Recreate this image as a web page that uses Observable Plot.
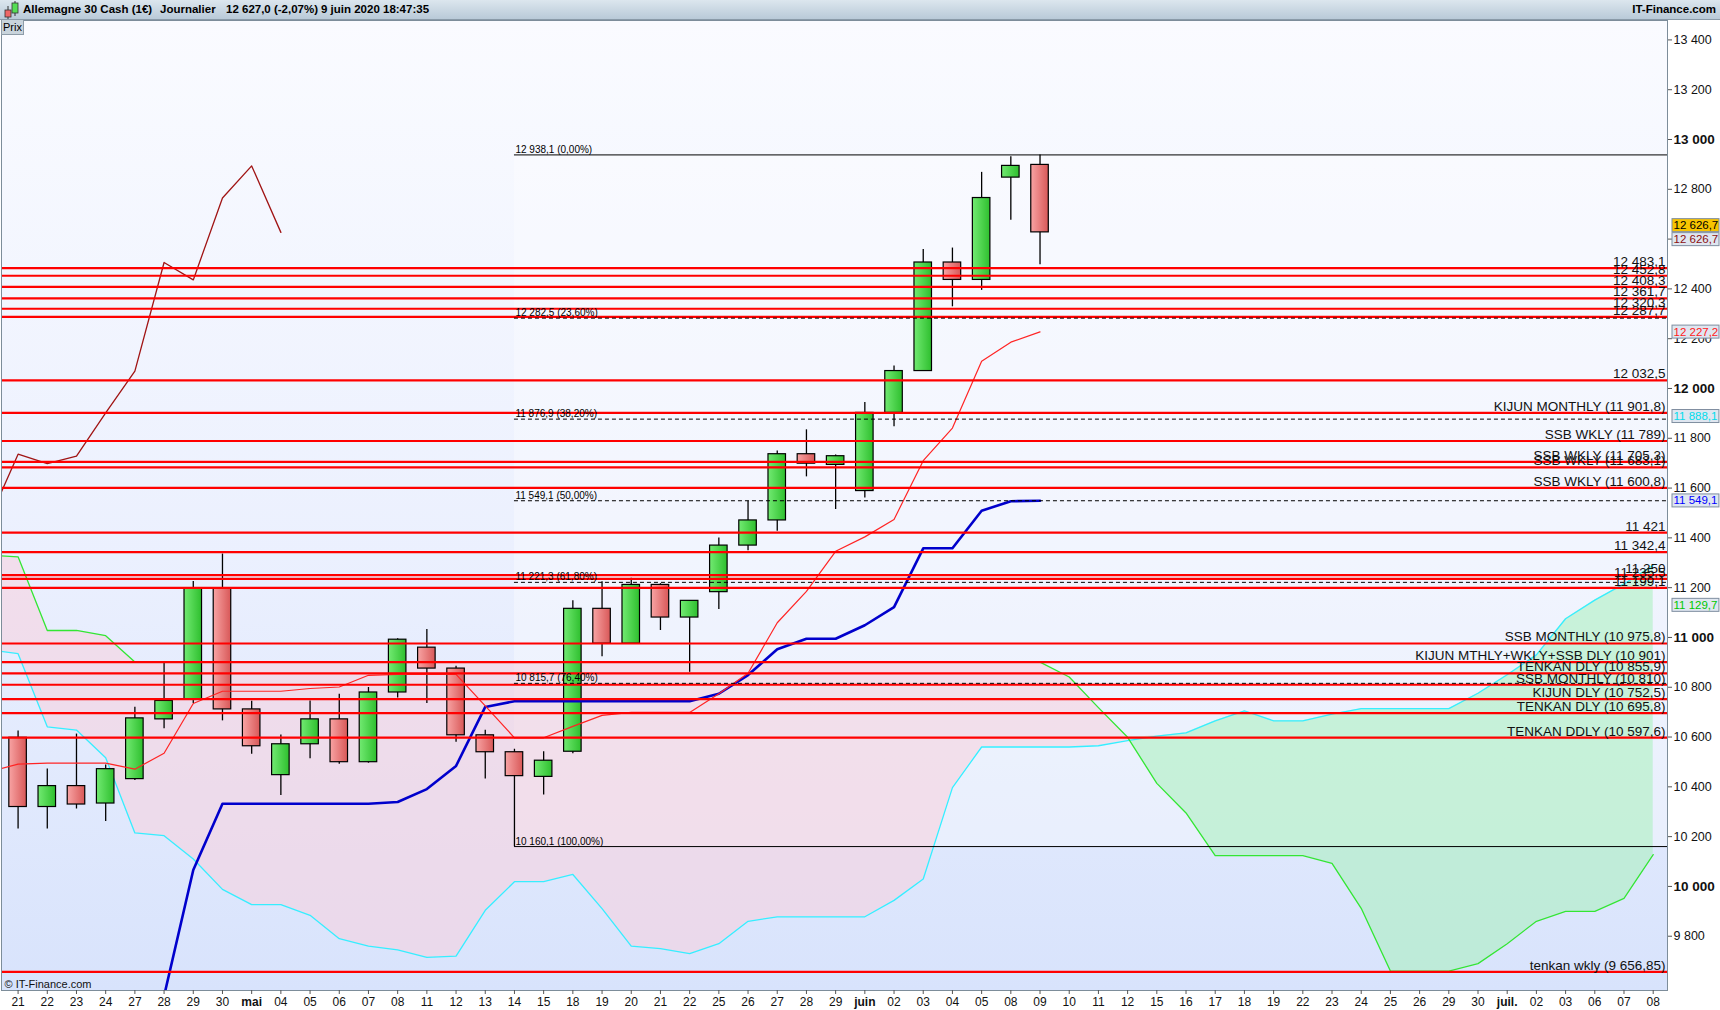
<!DOCTYPE html>
<html><head><meta charset="utf-8">
<script src="https://cdn.jsdelivr.net/npm/d3@7"></script>
<script src="https://cdn.jsdelivr.net/npm/@observablehq/plot@0.6"></script>
<style>
body{margin:0;background:#fff;font-family:"Liberation Sans",Arial,sans-serif;}
#wrap{position:relative;width:1720px;height:1010px;overflow:hidden;background:#fff;}
#hdr{position:relative;height:20px;width:1720px;box-sizing:border-box;background:linear-gradient(#dce6ee,#b9cad8);border-bottom:1px solid #8a9aa8;font-size:11.5px;color:#000;font-weight:bold;}
#hdr span{position:absolute;top:3px;white-space:pre;}
#prix{position:absolute;left:1px;top:20px;width:21px;height:14px;background:#c9d4dc;border:1px solid #8e9ca8;border-top:none;font-size:11px;line-height:14px;text-align:center;color:#000;z-index:2;}
#chart svg{display:block;}
</style></head>
<body>
<div id="wrap">
  <div id="hdr">
    <svg width="20" height="20" style="position:absolute;left:2px;top:0">
      <line x1="6" y1="6" x2="6" y2="19" stroke="#333"/>
      <rect x="3" y="10" width="6" height="7" fill="#ee6666" stroke="#333" stroke-width="0.8"/>
      <line x1="13" y1="1" x2="13" y2="16" stroke="#333"/>
      <rect x="10" y="3" width="6" height="10" fill="#55dd55" stroke="#333" stroke-width="0.8"/>
    </svg>
    <span style="left:23px">Allemagne 30 Cash (1€)</span>
    <span style="left:160px">Journalier</span>
    <span style="left:226px">12 627,0 (-2,07%)</span>
    <span style="left:321px">9 juin 2020 18:47:35</span>
    <span style="right:4px">IT-Finance.com</span>
  </div>
  <div id="prix">Prix</div>
  <div id="chart"></div>
</div>
<script>
// ---------- data ----------
const dateLabels = ["21","22","23","24","27","28","29","30","mai","04","05","06","07","08","11","12","13","14","15","18","19","20","21","22","25","26","27","28","29","juin","02","03","04","05","08","09","10","11","12","15","16","17","18","19","22","23","24","25","26","29","30","juil.","02","03","06","07","08"];
const monthLabels = ["mai","juin","juil."];

const opens  = [10597,10319,10403,10333,10431,10671,10751,11195,10711,10447,10571,10671,10499,10779,10959,10875,10607,10539,10440,10541,11115,10975,11211,11080,11182,11369,11470,11736,11693,11588,11902,12070,12506,12436,12847,12898];
const highs  = [10624,10472,10612,10488,10720,10895,11225,11335,10744,10608,10745,10772,10799,10995,11032,10884,10627,10551,10541,11147,11224,11238,11216,11147,11399,11547,11749,11834,11733,11944,12090,12558,12564,12868,12931,12938.1];
const lows   = [10231,10231,10311,10261,10425,10633,10735,10665,10531,10365,10513,10491,10495,10757,10735,10579,10431,10160.1,10367,10533,10923,10975,11028,10860,11112,11348,11427,11645,11514,11560,11846,12070,12328,12394,12676,12497];
const closes = [10319,10403,10329,10471,10675,10745,11195,10711,10563,10571,10671,10499,10779,10991,10875,10607,10539,10443,10505,11115,10975,11211,11080,11147,11369,11470,11736,11698,11728,11902,12070,12506,12436,12765,12894,12627];

// tenkan (index -1 .. 35)
const tenkanStart = -1;
const tenkan = [10460,10491,10495,10495,10495,10471,10535,10735,10784,10784,10784,10795,10801,10848,10852,10852,10852,10725,10597,10597,10643,10687,10699,10699,10699,10774,10856,11059,11185,11346,11404,11474,11710,11841,12109,12186,12227.2];
// kijun (index 5 .. 35)
const kijunStart = 5;
const kijun = [9560,10066,10332,10332,10332,10332,10332,10332,10339,10391,10484,10721,10744,10744,10744,10744,10744,10744,10744,10774,10849,10953,10995,10995,11049,11122,11358,11358,11509,11547,11549.1];
// chikou (index -1 .. 9)
const chikouStart = -1;
const chikou = [11470,11736,11698,11728,11902,12070,12506,12436,12765,12894,12627];
// senkou span A (cyan) and B (green), index -1 .. 56
const cloudStart = -1;
const ssa = [10950,10935,10641,10628,10517,10215,10204,10110,9988,9927,9927,9884,9790,9760,9745,9715,9720,9904,10019,10019,10048,9911,9760,9750,9730,9770,9860,9878,9878,9878,9878,9944,10030,10397,10560,10560,10560,10560,10565,10586,10604,10617,10665,10705,10665,10665,10692,10714,10714,10714,10714,10776,10850,10930,11075,11150,11215,11290];
const ssb = [11330,11324,11028,11028,11007,10901,10901,10901,10901,10901,10901,10901,10901,10901,10901,10901,10901,10901,10901,10901,10901,10901,10901,10901,10901,10901,10901,10901,10901,10901,10901,10901,10901,10901,10901,10901,10901,10841,10718,10599,10414,10295,10124,10124,10124,10124,10093,9912,9660,9660,9660,9690,9770,9860,9900,9900,9952,10128];

// horizontal support / resistance levels
const levelValues = [12483.1,12452.8,12408.3,12361.7,12320.3,12287.7,12032.5,11901.8,11789,11705.3,11683.1,11600.8,11421,11342.4,11250,11235.5,11199.1,10975.8,10901,10855.9,10810,10752.5,10695.8,10597.6,9656.85];
const levelLabels = ["12 483,1","12 452,8","12 408,3","12 361,7","12 320,3","12 287,7","12 032,5","KIJUN MONTHLY (11 901,8)","SSB WKLY (11 789)","SSB WKLY (11 705,3)","SSB WKLY (11 683,1)","SSB WKLY (11 600,8)","11 421","11 342,4","11 250","11 235,5","11 199,1","SSB MONTHLY (10 975,8)","KIJUN MTHLY+WKLY+SSB DLY (10 901)","TENKAN DLY (10 855,9)","SSB MONTHLY (10 810)","KIJUN DLY (10 752,5)","TENKAN DLY (10 695,8)","TENKAN DDLY (10 597,6)","tenkan wkly (9 656,85)"];

// Fibonacci retracement
const fibStartIndex = 17;
const fibValues = [12938.1,12282.5,11876.9,11549.1,11221.3,10815.7,10160.1];
const fibLabels = ["12 938,1 (0,00%)","12 282,5 (23,60%)","11 876,9 (38,20%)","11 549,1 (50,00%)","11 221,3 (61,80%)","10 815,7 (76,40%)","10 160,1 (100,00%)"];

// price axis
const yTicksRegular = [9800,10200,10400,10600,10800,11200,11400,11600,11800,12200,12400,12600,12800,13200,13400];
const yTicksBold = [10000,11000,12000,13000];

// value boxes on the price axis
const boxValues = [12626.7,12626.7,12227.2,11888.1,11549.1,11129.7];
const boxLabels = ["12 626,7","12 626,7","12 227,2","11 888,1","11 549,1","11 129,7"];
const boxTextColors = ["#000000","#8b1010","#ff1a1a","#00dcec","#0000ff","#00c800"];
const boxFills = ["#f8c400","#dfe6f0","#dfe6f0","#dfe6f0","#dfe6f0","#dfe6f0"];
const boxShift = [-7,7,0,0,0,0];

const yDomain = [9582, 13478];
const xDomain = [-0.568, 56.49];

// ---------- build tables ----------
const candles = opens.map((o,i)=>({i, o, h:highs[i], l:lows[i], c:closes[i]}));
const up = candles.filter(d=>d.c>=d.o);
const dn = candles.filter(d=>d.c<d.o);
const series = (arr, start) => arr.map((v,k)=>({i:start+k, v}));
const tenkanData = series(tenkan, tenkanStart);
const kijunData = series(kijun, kijunStart);
const chikouData = series(chikou, chikouStart);
const cloud = ssa.map((a,k)=>({i:cloudStart+k, a, b:ssb[k]}));
const levels = levelValues.map((v,k)=>({v, label:levelLabels[k]}));
const fibs = fibValues.map((v,k)=>({v, label:fibLabels[k], solid: k===0 || k===fibValues.length-1}));
const boxes = boxValues.map((v,k)=>({v, label:boxLabels[k], color:boxTextColors[k], shift:boxShift[k]}));
const idx = dateLabels.map((d,i)=>i);
const xRegular = idx.filter(i=>!monthLabels.includes(dateLabels[i]));
const xBold = idx.filter(i=>monthLabels.includes(dateLabels[i]));

const loc = d3.formatLocale({decimal:",", thousands:" ", grouping:[3], currency:["",""]});
const fmt = loc.format(",d");

const defs = () => {
  const d = d3.create("svg:defs");
  const bg = d.append("linearGradient").attr("id","bgGrad").attr("x1",0).attr("y1",0).attr("x2",0).attr("y2",1);
  bg.append("stop").attr("offset","0%").attr("stop-color","#fafbff");
  bg.append("stop").attr("offset","55%").attr("stop-color","#ebf0fe");
  bg.append("stop").attr("offset","100%").attr("stop-color","#d8e3fc");
  const gu = d.append("linearGradient").attr("id","gUp").attr("x1",0).attr("y1",0).attr("x2",1).attr("y2",0);
  gu.append("stop").attr("offset","0%").attr("stop-color","#72ea72");
  gu.append("stop").attr("offset","100%").attr("stop-color","#2ebf2e");
  const gd = d.append("linearGradient").attr("id","gDn").attr("x1",0).attr("y1",0).attr("x2",1).attr("y2",0);
  gd.append("stop").attr("offset","0%").attr("stop-color","#f8a4a4");
  gd.append("stop").attr("offset","100%").attr("stop-color","#d85858");
  return d.node();
};

const FONT = '"Liberation Sans", Arial, sans-serif';

const chart = Plot.plot({
  width: 1720, height: 990,
  marginLeft: 1, marginRight: 53, marginTop: 0, marginBottom: 20,
  x: {type:"linear", domain: xDomain},
  y: {type:"linear", domain: yDomain},
  color: {type:"identity"},
  style: {fontFamily: FONT, background:"white", color:"#111", overflow:"visible"},
  marks: [
    defs,
    Plot.frame({fill:"url(#bgGrad)"}),
    // Fibonacci zone tint
    Plot.rect([{x1:fibStartIndex, x2:xDomain[1], y1:fibValues[fibValues.length-1], y2:fibValues[0]}], {x1:"x1", x2:"x2", y1:"y1", y2:"y2", fill:"white", fillOpacity:0.32}),
    // Ichimoku cloud
    Plot.areaY(cloud, {x:"i", y1:"a", y2:d=>Math.max(d.a,d.b), fill:"#f8d0dc", fillOpacity:0.55, clip:true}),
    Plot.areaY(cloud, {x:"i", y1:"b", y2:d=>Math.max(d.a,d.b), fill:"#a8f0bc", fillOpacity:0.55, clip:true}),
    Plot.line(cloud, {x:"i", y:"a", stroke:"#36eeff", strokeWidth:1.3, clip:true}),
    Plot.line(cloud, {x:"i", y:"b", stroke:"#33e633", strokeWidth:1.3, clip:true}),
    // candles
    Plot.ruleX(candles, {x:"i", y1:"l", y2:"h", stroke:"#000", strokeWidth:1.3}),
    Plot.rect(up, {x1:d=>d.i-0.3, x2:d=>d.i+0.3, y1:"o", y2:"c", fill:"url(#gUp)", stroke:"#000", strokeWidth:1.2}),
    Plot.rect(dn, {x1:d=>d.i-0.3, x2:d=>d.i+0.3, y1:"o", y2:"c", fill:"url(#gDn)", stroke:"#000", strokeWidth:1.2}),
    // indicator lines
    Plot.line(kijunData, {x:"i", y:"v", stroke:"#0000cc", strokeWidth:2.6, clip:true}),
    Plot.line(tenkanData, {x:"i", y:"v", stroke:"#ff2424", strokeWidth:1.2, clip:true}),
    Plot.line(chikouData, {x:"i", y:"v", stroke:"#a01414", strokeWidth:1.3, clip:true}),
    // horizontal levels
    Plot.ruleY(levels, {y:"v", stroke:"#ff0000", strokeWidth:2.2}),
    Plot.text(levels, {y:"v", text:"label", frameAnchor:"right", textAnchor:"end", lineAnchor:"bottom", dx:-2, dy:-2, fontSize:13.5, fill:"#111"}),
    // Fibonacci lines
    Plot.ruleY(fibs.filter(d=>d.solid), {y:"v", x1:fibStartIndex, x2:xDomain[1], stroke:"#000", strokeWidth:1}),
    Plot.ruleY(fibs.filter(d=>!d.solid), {y:"v", x1:fibStartIndex, x2:xDomain[1], stroke:"#000", strokeWidth:1, strokeDasharray:"4,3"}),
    Plot.text(fibs, {y:"v", x:fibStartIndex, text:"label", textAnchor:"start", lineAnchor:"bottom", dx:1, dy:-2, fontSize:10, fill:"#000"}),
    // copyright
    Plot.text(["© IT-Finance.com"], {frameAnchor:"bottom-left", text:d=>d, textAnchor:"start", lineAnchor:"bottom", dx:3, dy:-3, fontSize:11, fill:"#111"}),
    Plot.frame({stroke:"#7d8d9a", strokeWidth:1}),
    // axes
    Plot.axisX({anchor:"bottom", ticks:xRegular, tickFormat:i=>dateLabels[i], tickSize:4, tickPadding:3, fontSize:12, stroke:"#555"}),
    Plot.axisX({anchor:"bottom", ticks:xBold, tickFormat:i=>dateLabels[i], tickSize:4, tickPadding:3, fontSize:12, fontWeight:"bold", stroke:"#555"}),
    Plot.axisY({anchor:"right", ticks:yTicksRegular, tickFormat:fmt, tickSize:4, tickPadding:2, fontSize:12.5, stroke:"#555"}),
    Plot.axisY({anchor:"right", ticks:yTicksBold, tickFormat:fmt, tickSize:4, tickPadding:2, fontSize:13.5, fontWeight:"bold", stroke:"#555"}),
    // value boxes (last text mark)
    Plot.text(boxes, {y:"v", text:"label", frameAnchor:"right", textAnchor:"start", dx:6, fontSize:11.5, fill:"color"})
  ]
});

document.getElementById("chart").append(chart);

// draw the boxes behind the price-axis value labels
const ns = "http://www.w3.org/2000/svg";
const textGroups = chart.querySelectorAll('g[aria-label="text"]');
const boxGroup = textGroups[textGroups.length - 1];
if (boxGroup) {
  boxGroup.querySelectorAll("text").forEach((t,k)=>{
    const shift = boxes[k] ? boxes[k].shift : 0;
    const tr = t.getAttribute("transform") || "";
    if (t.hasAttribute("y") && !tr) {
      t.setAttribute("y", parseFloat(t.getAttribute("y")) + shift);
    } else {
      t.setAttribute("transform", (tr + ` translate(0,${shift})`).trim());
    }
    const b = t.getBBox();
    const r = document.createElementNS(ns, "rect");
    r.setAttribute("x", b.x - 1.5);
    r.setAttribute("y", b.y - 0.5);
    r.setAttribute("width", Math.min(b.width + 3, 47));
    r.setAttribute("height", b.height + 1);
    r.setAttribute("fill", boxFills[k]);
    r.setAttribute("stroke", "#7f8ea0");
    r.setAttribute("stroke-width", "1");
    if (t.getAttribute("transform")) r.setAttribute("transform", t.getAttribute("transform"));
    t.parentNode.insertBefore(r, t);
  });
}
</script>
</body></html>
